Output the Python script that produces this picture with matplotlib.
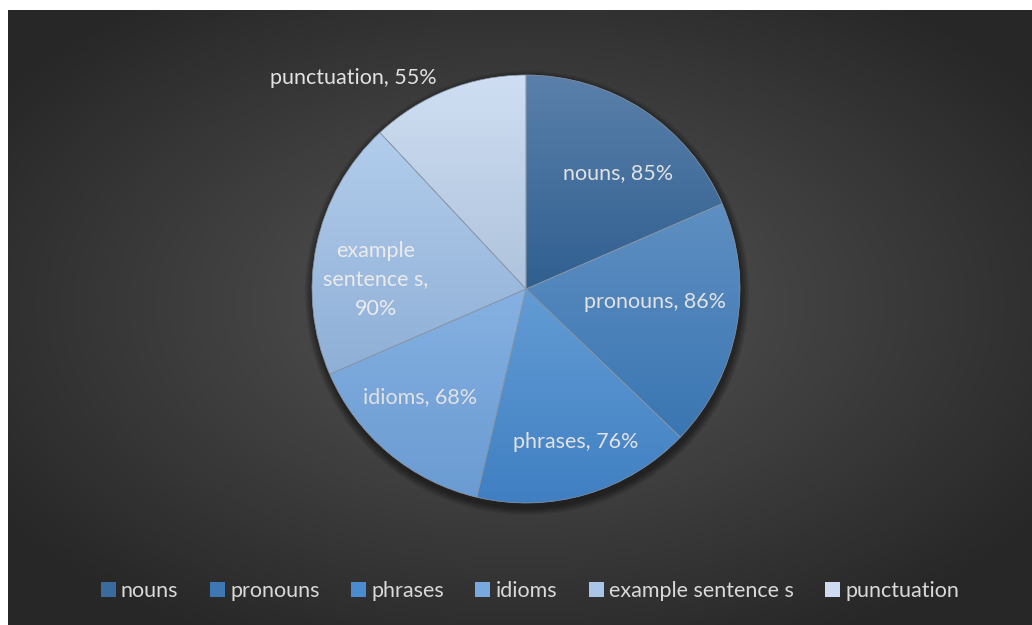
import numpy as np
import matplotlib
matplotlib.use('Agg')
import matplotlib.pyplot as plt
from matplotlib.colors import to_rgb
from matplotlib.patches import Patch, Circle

# ---- data ----
categories = ['nouns', 'pronouns', 'phrases', 'idioms', 'example sentence s', 'punctuation']
values = [85, 86, 76, 68, 90, 55]
wrapped = {'example sentence s': 'example\nsentence s,\n{v}%'}

# ---- styles ----
top_colors = ['#5a80aa', '#5f8fc2', '#639cd4', '#86b1e2', '#b2cdec', '#cfdef2']
bottom_colors = ['#305f90', '#3a76b2', '#3f7fc2', '#6a9bd2', '#8fafd6', '#aec3dc']
legend_colors = ['#3b6b9c', '#3d78b4', '#4b8bd0', '#78a8dd', '#a9c5e7', '#cddbf0']
label_xy = [(618, 173), (655, 302), (576, 442), (420, 397), (376, 280), (353, 78)]
label_colors = ['#e2e2e2', '#e2e2e2', '#e2e2e2', '#e2e2e2', '#ebebeb', '#e2e2e2']

W, H = 1032, 625
cx, cy_top, R = 526, 289, 214
cy = H - cy_top

plt.rcParams['font.family'] = ['Lato', 'DejaVu Sans']

fig = plt.figure(figsize=(W / 100, H / 100), dpi=100)
fig.patch.set_facecolor('white')

# background radial gradient
bg = fig.add_axes([8 / W, 0, 1 - 8 / W, 1 - 10 / H])
bg.axis('off')
yy, xx = np.mgrid[0:1:400j, 0:1:660j]
d = np.sqrt(((xx - 0.5) / 0.62) ** 2 + ((yy - 0.52) / 0.62) ** 2)
d = np.clip(d, 0, 1)
c_in = np.array(to_rgb('#565656'))
c_out = np.array(to_rgb('#272727'))
img = c_in[None, None, :] * (1 - d[..., None]) + c_out[None, None, :] * d[..., None]
bg.imshow(img, extent=(0, 1, 0, 1), aspect='auto', origin='lower')

ax = fig.add_axes([0, 0, 1, 1])
ax.axis('off')

# soft shadow under the pie
for k in range(10):
    ax.add_patch(Circle((cx + 1, cy - 4), R + 1 + k * 0.8, color='black',
                        alpha=0.05, lw=0, zorder=0.5))

wedges, _ = ax.pie(values, startangle=90, counterclock=False, center=(cx, cy),
                   radius=R, wedgeprops=dict(linewidth=0.5, edgecolor='#8a98a8',
                                             facecolor='none'))

for w, ct, cb in zip(wedges, top_colors, bottom_colors):
    verts = w.get_patch_transform().transform(w.get_path().vertices)
    xmin, xmax = verts[:, 0].min(), verts[:, 0].max()
    ymin, ymax = verts[:, 1].min(), verts[:, 1].max()
    t = np.linspace(0, 1, 200)[:, None]
    grad = np.array(to_rgb(cb))[None, None, :] * (1 - t[..., None]) + \
        np.array(to_rgb(ct))[None, None, :] * t[..., None]
    im = ax.imshow(grad, extent=(xmin, xmax, ymin, ymax), origin='lower',
                   aspect='auto', zorder=0.9, interpolation='bilinear')
    im.set_clip_path(w)
    w.set_zorder(1)

for cat, v, (lx, ly), lc in zip(categories, values, label_xy, label_colors):
    txt = wrapped[cat].format(v=v) if cat in wrapped else f'{cat}, {v}%'
    ax.text(lx, H - ly, txt, ha='center', va='center', fontsize=15.5,
            color=lc, linespacing=1.55, zorder=3)

ax.set_xlim(0, W)
ax.set_ylim(0, H)
ax.set_aspect('auto')

handles = [Patch(facecolor=c, edgecolor='none') for c in legend_colors]
fig.legend(handles, categories, loc='center', bbox_to_anchor=(530 / W, 1 - 591 / H),
           ncol=6, frameon=False, fontsize=15.5, labelcolor='#d9d9d9',
           handlelength=0.7, handleheight=0.7, handletextpad=0.25,
           columnspacing=1.45)

fig.savefig('out.png', dpi=100, facecolor=fig.get_facecolor())
